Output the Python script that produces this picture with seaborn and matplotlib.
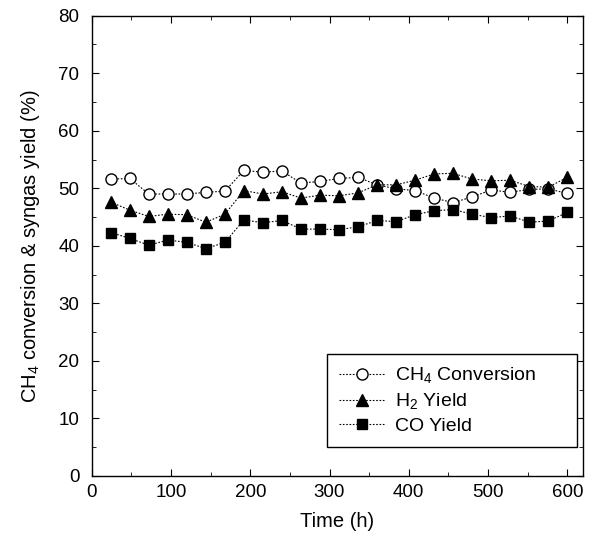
import pandas as pd
import seaborn as sns
import matplotlib.pyplot as plt
from matplotlib.ticker import MultipleLocator

# time on stream (h)
time_h = [24, 48, 72, 96, 120, 144, 168, 192, 216, 240, 264, 288, 312,
          336, 360, 384, 408, 432, 456, 480, 504, 528, 552, 576, 600]

# values (%)
ch4_conversion = [51.6, 51.7, 49.0, 49.0, 49.0, 49.3, 49.5, 53.1, 52.8, 53.0, 50.9, 51.2, 51.7,
                  51.9, 50.6, 49.9, 49.6, 48.3, 47.5, 48.5, 49.7, 49.3, 49.8, 49.9, 49.1]
h2_yield = [47.6, 46.2, 45.1, 45.5, 45.4, 44.1, 45.5, 49.6, 49.0, 49.4, 48.3, 48.8, 48.7,
            49.2, 50.6, 50.6, 51.4, 52.5, 52.6, 51.6, 51.3, 51.4, 50.3, 50.2, 51.9]
co_yield = [42.3, 41.3, 40.1, 41.0, 40.6, 39.5, 40.6, 44.5, 44.0, 44.4, 42.9, 42.9, 42.8,
            43.3, 44.4, 44.2, 45.4, 46.1, 46.3, 45.5, 44.9, 45.2, 44.1, 44.3, 45.8]

df = pd.DataFrame({'time': time_h, 'ch4': ch4_conversion, 'h2': h2_yield, 'co': co_yield})

sns.set_style("ticks")
plt.rcParams['font.family'] = ['Liberation Sans', 'DejaVu Sans']
plt.rcParams['mathtext.fontset'] = 'custom'
plt.rcParams['mathtext.rm'] = 'Liberation Sans'
plt.rcParams['text.color'] = 'black'
plt.rcParams['axes.labelcolor'] = 'black'
plt.rcParams['xtick.color'] = 'black'
plt.rcParams['ytick.color'] = 'black'

fig = plt.figure(figsize=(5.92, 5.42), dpi=100)
ax = fig.add_axes([0.155, 0.122, 0.83, 0.849])

line_kw = dict(color='black', linestyle=(0, (1.5, 1.5)), linewidth=0.8,
               markeredgecolor='black', markeredgewidth=1.0)

sns.lineplot(data=df, x='time', y='ch4', ax=ax, marker='o', markersize=8,
             markerfacecolor='white', label='CH$_4$ Conversion', **line_kw)
sns.lineplot(data=df, x='time', y='h2', ax=ax, marker='^', markersize=8,
             markerfacecolor='black', label='H$_2$ Yield', **line_kw)
sns.lineplot(data=df, x='time', y='co', ax=ax, marker='s', markersize=7,
             markerfacecolor='black', label='CO Yield', **line_kw)

ax.set_xlim(0, 620)
ax.set_ylim(0, 80)
ax.xaxis.set_major_locator(MultipleLocator(100))
ax.xaxis.set_minor_locator(MultipleLocator(50))
ax.yaxis.set_major_locator(MultipleLocator(10))
ax.yaxis.set_minor_locator(MultipleLocator(5))
ax.tick_params(which='both', direction='in', top=True, right=True,
               labelsize=13.5, color='black')
ax.tick_params(which='major', length=5)
ax.tick_params(which='minor', length=3)
ax.tick_params(axis='y', which='major', pad=9)
ax.tick_params(axis='x', which='major', pad=6)
for s in ax.spines.values():
    s.set_color('black')
    s.set_linewidth(1.0)

ax.set_xlabel('Time (h)', fontsize=14.5, labelpad=8)
ax.set_ylabel('CH$_4$ conversion & syngas yield (%)', fontsize=14.5, labelpad=12)

leg = ax.legend(loc='lower left', bbox_to_anchor=(0.479, 0.063, 0.508, 0.2),
                mode='expand', fontsize=14,
                frameon=True, fancybox=False, edgecolor='black', framealpha=1,
                handlelength=2.4, handletextpad=0.5, borderpad=0.6,
                labelspacing=0.3, borderaxespad=0)
leg.get_frame().set_linewidth(1.0)

fig.savefig('out.png', dpi=100)
